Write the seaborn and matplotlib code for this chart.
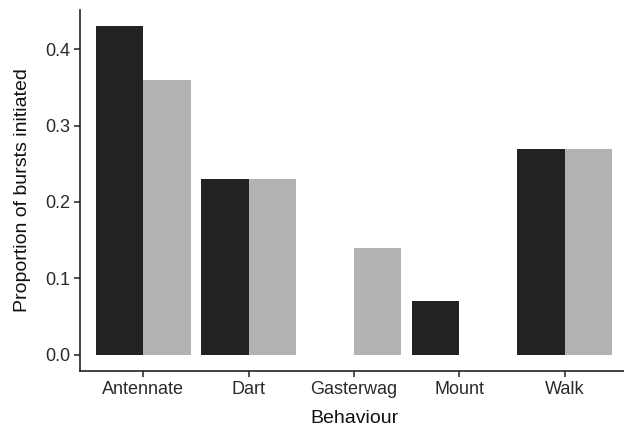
import pandas as pd
import numpy as np
import matplotlib
matplotlib.use('Agg')
import matplotlib.pyplot as plt
import seaborn as sns

# data
behaviours = ['Antennate', 'Dart', 'Gasterwag', 'Mount', 'Walk']
group_a = [0.43, 0.23, 0.0, 0.07, 0.27]
group_b = [0.36, 0.23, 0.14, 0.0, 0.27]
groups = ['A', 'B']

df = pd.DataFrame({
    'Behaviour': behaviours * 2,
    'Proportion': group_a + group_b,
    'Group': [groups[0]] * len(behaviours) + [groups[1]] * len(behaviours),
})

sns.set_style('ticks')
plt.rcParams['font.family'] = ['Liberation Sans', 'DejaVu Sans']

fig = plt.figure(figsize=(6.24, 4.30), dpi=100)
ax = fig.add_axes([80 / 624, 59 / 430, 548 / 624, 361 / 430])

sns.barplot(data=df, x='Behaviour', y='Proportion', hue='Group',
            palette=['#222222', '#b3b3b3'], width=0.9, gap=0,
            saturation=1, linewidth=0, legend=False, ax=ax)

ax.set_xlim(-0.6, 4.6)
ax.set_ylim(-0.0215, 0.4515)
ax.set_yticks([0.0, 0.1, 0.2, 0.3, 0.4])
ax.set_yticklabels(['0.0', '0.1', '0.2', '0.3', '0.4'])

for side in ['top', 'right']:
    ax.spines[side].set_visible(False)
for side in ['left', 'bottom']:
    ax.spines[side].set_color('#222222')
    ax.spines[side].set_linewidth(1.2)

ax.tick_params(axis='both', colors='#222222', labelsize=13, length=4, width=1.1,
               labelcolor='#2a2a2a', pad=3)
ax.set_xlabel('Behaviour', fontsize=14, color='#111111', labelpad=9)
ax.set_ylabel('Proportion of bursts initiated', fontsize=14, color='#111111', labelpad=10)

fig.savefig('out.png', dpi=100)
